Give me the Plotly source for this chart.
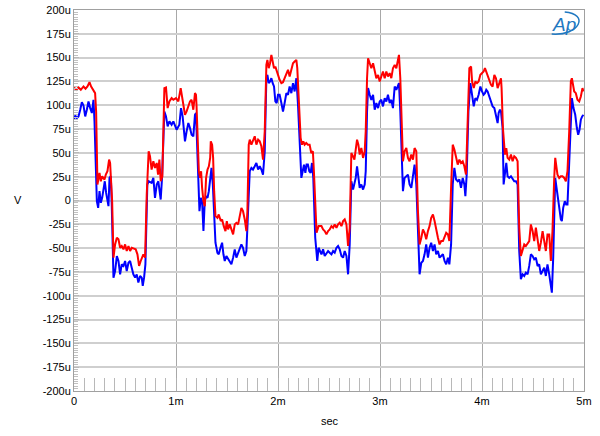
import plotly.graph_objects as go

# time in ms, voltage in microvolts
t_red = [0.000,0.022,0.044,0.067,0.093,0.113,0.132,0.152,0.168,0.178,0.191,0.207,0.217,0.230,0.250,0.263,0.276,0.299,0.312,0.328,0.344,0.354,0.361,0.374,0.387,0.403,0.420,0.436,0.452,0.468,0.485,0.501,0.517,0.534,0.550,0.566,0.582,0.605,0.622,0.638,0.654,0.671,0.680,0.697,0.713,0.732,0.745,0.761,0.778,0.794,0.811,0.824,0.837,0.850,0.866,0.886,0.902,0.918,0.935,0.957,0.974,1.000,1.023,1.046,1.062,1.088,1.104,1.121,1.137,1.153,1.170,1.186,1.196,
         1.201,1.211,1.224,1.237,1.246,1.256,1.269,1.282,1.295,1.309,1.322,1.335,1.341,1.354,1.364,1.374,1.387,1.406,1.419,1.439,1.452,1.468,1.485,1.498,1.511,1.527,1.543,1.560,1.576,1.592,1.609,1.625,1.641,1.657,1.674,1.690,1.700,1.713,1.723,1.739,1.755,1.772,1.788,1.805,1.821,1.837,1.853,1.870,1.886,1.896,1.909,1.922,1.935,1.948,1.961,1.974,1.987,2.000,2.016,2.033,2.049,2.065,2.082,2.098,2.114,2.131,2.147,2.163,2.180,2.189,2.202,2.222,2.235,2.248,2.261,2.277,2.293,2.310,2.326,2.342,2.352,2.365,2.378,2.398,
         2.426,2.442,2.458,2.475,2.491,2.507,2.524,2.540,2.556,2.573,2.589,2.605,2.622,2.638,2.654,2.671,2.687,2.703,2.719,2.736,2.749,2.762,2.775,2.788,2.801,2.817,2.834,2.850,2.860,2.873,2.883,2.899,2.915,2.932,2.948,2.964,2.981,2.997,3.013,3.029,3.046,3.062,3.078,3.095,3.111,3.127,3.144,3.160,3.176,3.186,3.199,3.212,3.225,3.241,3.258,3.274,3.290,3.307,3.323,3.339,3.356,3.372,3.388,3.405,3.421,3.437,3.453,3.470,3.486,3.502,3.519,3.535,3.551,3.568,3.584,3.600,3.617,3.633,3.649,3.666,
         3.680,3.697,3.713,3.729,3.746,3.762,3.778,3.794,3.811,3.827,3.843,3.860,3.876,3.893,3.903,3.919,3.935,3.951,3.967,3.984,4.000,4.016,4.029,4.042,4.055,4.072,4.088,4.104,4.121,4.137,4.153,4.170,4.186,4.192,4.205,4.225,4.238,4.251,4.267,4.284,4.300,4.316,4.333,4.349,4.365,4.381,4.398,4.414,4.430,4.447,4.463,4.479,4.496,4.512,4.528,4.545,4.561,4.577,4.594,4.610,4.626,4.642,4.659,4.675,4.691,4.708,4.718,4.731,4.740,4.757,4.773,4.789,4.806,4.822,4.838,4.855,4.871,4.881,4.891,4.904,4.920,4.936,4.953,4.969,4.985,4.995]
v_red = [118.7,116.2,118.7,116.2,119.7,117.3,119.7,124.2,119.7,118.0,114.5,112.7,93.5,16.8,29.0,20.2,25.5,22.0,27.2,30.7,42.9,39.4,25.5,-0.7,-60.0,-46.1,-39.1,-40.8,-49.6,-47.8,-51.3,-46.1,-53.0,-47.8,-53.0,-49.6,-50.3,-51.3,-56.5,-68.7,-63.5,-60.0,-56.5,-60.0,6.3,51.7,46.4,32.5,41.2,34.2,39.4,27.2,42.9,20.2,25.0,118.0,118.7,97.0,104.0,107.5,105.7,107.5,104.0,118.0,105.7,90.0,93.5,98.8,104.0,105.7,95.3,112.7,111.0,
         100.5,58.6,30.7,23.7,30.7,13.3,-0.7,-5.9,23.7,32.5,35.9,44.7,62.1,58.6,44.7,9.8,-16.4,-18.1,-14.7,-21.6,-19.9,-26.9,-32.1,-21.6,-30.4,-25.1,-30.4,-35.6,-25.1,-23.4,-25.1,-14.7,-7.7,-11.2,-19.9,-32.1,-11.2,58.6,63.9,58.6,62.1,67.4,58.6,63.9,62.1,56.9,42.9,72.6,142.4,147.6,138.9,144.1,152.9,145.9,138.9,140.6,135.4,131.9,126.7,123.2,124.2,128.4,133.7,137.2,130.2,138.9,144.1,145.9,147.6,138.9,111.0,65.6,58.6,62.1,58.6,60.4,58.6,58.6,49.9,51.7,30.7,-11.2,-33.9,-26.9,
         -26.9,-30.4,-32.1,-35.6,-32.1,-30.4,-26.9,-28.6,-25.1,-28.6,-25.1,-23.4,-26.9,-21.6,-19.9,-25.1,-47.8,-28.6,49.9,46.4,42.9,53.4,63.9,58.6,48.2,55.1,44.7,51.7,72.6,128.4,149.4,144.1,138.9,144.1,135.4,128.4,131.9,124.9,130.2,135.4,128.4,135.4,130.2,133.7,128.4,138.9,142.4,138.9,147.6,152.9,128.4,79.6,41.2,51.7,55.1,44.7,41.2,48.2,42.9,55.1,51.7,-11.2,-46.1,-39.1,-30.4,-33.9,-40.8,-32.1,-26.9,-18.1,-14.7,-21.6,-32.1,-39.1,-46.1,-42.6,-42.6,-39.1,-33.9,-35.6,
         -42.6,13.3,58.6,53.4,44.7,37.7,42.9,39.4,41.2,35.9,27.2,93.5,138.9,140.6,124.9,118.0,124.9,123.2,124.9,131.9,133.7,135.4,138.9,135.4,131.9,126.7,121.5,119.7,131.9,128.4,118.0,123.2,128.4,118.0,76.1,48.2,55.1,44.7,42.9,48.2,41.2,46.4,44.7,41.2,-28.6,-58.3,-53.0,-46.1,-47.8,-44.3,-42.6,-25.1,-32.1,-42.6,-28.6,-40.8,-53.0,-44.3,-32.1,-42.6,-53.0,-35.6,-35.6,-63.5,-32.1,23.7,44.7,34.2,27.2,23.7,25.5,25.5,23.7,20.2,30.7,72.6,124.9,128.4,121.5,114.5,112.7,105.7,104.0,109.2,118.0,114.5]

t_blue = [0.000,0.012,0.028,0.044,0.061,0.077,0.093,0.110,0.126,0.142,0.159,0.175,0.191,0.201,0.224,0.237,0.250,0.263,0.276,0.289,0.302,0.315,0.328,0.338,0.348,0.361,0.370,0.387,0.403,0.420,0.436,0.452,0.468,0.485,0.501,0.517,0.534,0.550,0.566,0.582,0.599,0.615,0.631,0.648,0.664,0.674,0.687,0.700,0.719,0.732,0.761,0.778,0.794,0.811,0.827,0.837,0.850,0.863,0.886,0.902,0.918,0.935,0.957,0.974,1.006,1.033,1.049,1.065,1.088,1.104,1.121,1.137,1.153,1.170,1.186,1.196,
          1.217,1.230,1.243,1.256,1.269,1.282,1.295,1.309,1.322,1.335,1.348,1.361,1.374,1.387,1.406,1.419,1.436,1.452,1.465,1.478,1.494,1.511,1.527,1.543,1.560,1.576,1.592,1.609,1.625,1.641,1.657,1.674,1.690,1.706,1.723,1.739,1.755,1.772,1.788,1.805,1.821,1.837,1.853,1.870,1.886,1.896,1.909,1.922,1.935,1.948,1.961,1.974,1.987,2.000,2.016,2.033,2.049,2.065,2.082,2.098,2.114,2.131,2.147,2.163,2.180,2.196,2.212,2.229,2.242,2.255,2.268,2.280,2.293,2.307,2.320,2.333,2.346,2.365,2.385,2.398,
          2.426,2.442,2.458,2.475,2.491,2.507,2.524,2.540,2.556,2.573,2.589,2.605,2.622,2.638,2.654,2.671,2.687,2.703,2.719,2.736,2.749,2.762,2.775,2.788,2.801,2.817,2.834,2.850,2.860,2.873,2.883,2.899,2.915,2.932,2.948,2.964,2.981,2.997,3.013,3.029,3.046,3.062,3.078,3.095,3.111,3.127,3.144,3.160,3.176,3.186,3.199,3.212,3.225,3.241,3.258,3.274,3.290,3.307,3.323,3.339,3.356,3.372,3.388,3.405,3.421,3.437,3.453,3.470,3.486,3.502,3.519,3.535,3.551,3.568,3.584,3.600,3.617,3.633,3.649,3.666,
          3.680,3.697,3.713,3.729,3.746,3.762,3.778,3.794,3.811,3.827,3.837,3.850,3.867,3.886,3.903,3.919,3.935,3.951,3.967,3.984,4.000,4.016,4.029,4.042,4.055,4.072,4.088,4.104,4.121,4.137,4.153,4.163,4.176,4.186,4.202,4.212,4.225,4.238,4.251,4.267,4.284,4.300,4.316,4.333,4.349,4.365,4.381,4.398,4.414,4.430,4.447,4.463,4.479,4.496,4.512,4.528,4.545,4.561,4.577,4.594,4.610,4.626,4.642,4.659,4.675,4.685,4.698,4.718,4.731,4.740,4.757,4.773,4.783,4.796,4.812,4.825,4.838,4.848,4.865,4.881,4.897,4.914,4.930,4.943,4.956,4.969,4.982,4.995]
v_blue = [84.8,89.3,86.6,88.3,95.3,103.3,99.8,88.3,95.3,104.0,97.0,91.8,105.7,83.1,-0.7,-7.7,9.8,-2.4,2.8,9.8,20.2,8.0,-0.7,-5.9,23.7,25.5,-4.2,-81.0,-74.0,-58.3,-63.5,-77.5,-67.0,-68.7,-63.5,-74.0,-65.3,-63.5,-70.5,-77.5,-81.0,-77.5,-86.2,-79.2,-81.0,-89.7,-81.0,-67.0,16.8,20.2,18.5,23.7,2.8,16.8,20.2,9.8,1.0,23.7,93.5,88.3,77.8,83.1,79.6,83.1,74.3,79.6,97.0,88.3,62.1,72.6,81.3,76.1,69.1,67.4,90.0,91.8,
          16.8,-11.2,2.8,-0.7,-32.1,-0.7,4.5,2.8,9.8,23.7,34.2,16.8,-18.1,-44.3,-54.8,-56.5,-49.6,-44.3,-56.5,-63.5,-58.3,-61.8,-65.3,-67.0,-60.0,-51.3,-60.0,-54.8,-49.6,-46.1,-49.6,-58.3,-53.0,-4.2,30.7,34.2,32.5,35.9,39.4,32.5,35.9,32.5,27.2,51.7,128.4,131.9,123.2,124.9,128.4,123.2,119.7,104.0,102.3,111.0,111.0,102.3,93.5,102.3,112.7,111.0,119.7,112.7,123.2,114.5,128.4,100.5,58.6,23.7,30.7,37.7,29.0,37.7,37.7,30.7,29.0,39.4,23.7,-39.1,-63.5,-49.6,
          -56.5,-51.3,-58.3,-54.8,-53.0,-54.8,-56.5,-53.0,-54.8,-49.6,-47.8,-51.3,-58.3,-60.0,-53.0,-58.3,-77.5,-46.1,20.2,11.5,16.8,23.7,35.9,23.7,13.3,16.8,11.5,16.8,30.7,93.5,118.0,111.0,105.7,111.0,95.3,102.3,97.0,104.0,105.7,98.8,107.5,104.0,111.0,102.3,105.7,97.0,119.7,116.2,121.5,123.2,93.5,48.2,9.8,23.7,25.5,27.2,16.8,13.3,25.5,37.7,16.8,-32.1,-77.5,-65.3,-63.5,-56.5,-46.1,-60.0,-49.6,-44.3,-53.0,-46.1,-56.5,-53.0,-60.0,-58.3,-56.5,-63.5,-67.0,-60.0,
          -67.0,-46.1,16.8,34.2,22.0,20.2,22.0,13.3,23.7,16.8,4.5,27.2,93.5,123.2,107.5,98.8,107.5,105.7,111.0,119.7,114.5,111.0,112.7,116.2,114.5,109.2,102.3,98.8,97.0,90.0,81.3,91.8,95.3,93.5,76.1,16.8,27.2,39.4,25.5,23.7,25.5,22.0,20.2,20.2,16.8,-53.0,-82.7,-77.5,-79.2,-75.7,-77.5,-68.7,-56.5,-58.3,-61.8,-60.0,-68.7,-67.0,-77.5,-74.0,-70.5,-79.2,-67.0,-77.5,-87.9,-96.7,-60.0,23.7,13.3,6.3,-4.2,-19.9,-21.6,-7.7,-0.7,-4.2,-4.2,23.7,76.1,107.5,97.0,90.0,76.1,69.1,74.3,84.8,88.3,90.0]

x_tick_vals = [0, 1, 2, 3, 4, 5]
x_tick_text = ["0", "1m", "2m", "3m", "4m", "5m"]
y_tick_vals = list(range(-200, 201, 25))
y_tick_text = [("0" if v == 0 else f"{v}u") for v in y_tick_vals]

FONT = "Liberation Sans, Arial, sans-serif"
LOGO = "#1f78c1"

fig = go.Figure()
fig.add_trace(go.Scatter(x=t_blue, y=v_blue, mode="lines",
                         line=dict(color="#0000ff", width=2), showlegend=False))
fig.add_trace(go.Scatter(x=t_red, y=v_red, mode="lines",
                         line=dict(color="#ff0000", width=2), showlegend=False))

fig.update_layout(
    width=600, height=436,
    margin=dict(l=74, r=16, t=10, b=45),
    paper_bgcolor="white", plot_bgcolor="white",
    font=dict(family=FONT, size=11, color="black"),
    xaxis=dict(range=[0, 5], tickmode="array", tickvals=x_tick_vals, ticktext=x_tick_text,
               automargin=False,
               showgrid=True, gridcolor="#a8a8a8", gridwidth=1,
               ticks="inside", ticklen=13, tickcolor="#b0b0b0",
               showline=True, linecolor="#a0a0a0", linewidth=1, mirror=True,
               zeroline=False,
               minor=dict(tickmode="linear", tick0=0, dtick=0.1, ticks="inside",
                          ticklen=13, tickcolor="#b8b8b8", showgrid=False),
               tickfont=dict(family=FONT, size=11, color="black")),
    yaxis=dict(range=[-200, 200], tickmode="array", tickvals=y_tick_vals, ticktext=y_tick_text,
               automargin=False,
               showgrid=True, gridcolor="#cfcfcf", gridwidth=1.5,
               ticks="inside", ticklen=5, tickcolor="#b8b8b8",
               showline=True, linecolor="#a0a0a0", linewidth=1, mirror=True,
               zeroline=False,
               minor=dict(tickmode="linear", tick0=0, dtick=2.5, ticks="inside",
                          ticklen=4, tickcolor="#c0c0c0", showgrid=False),
               tickfont=dict(family=FONT, size=11, color="black")),
    annotations=[
        dict(text="V", xref="paper", yref="paper", x=-0.109, y=0.501,
             xanchor="center", yanchor="middle", showarrow=False,
             font=dict(family=FONT, size=11, color="black")),
        dict(text="sec", xref="paper", yref="paper", x=0.502, y=-0.079,
             xanchor="center", yanchor="middle", showarrow=False,
             font=dict(family=FONT, size=11, color="black")),
        dict(text="<i>Ap</i>", xref="paper", yref="paper", x=0.960, y=0.961,
             xanchor="center", yanchor="middle", showarrow=False,
             font=dict(family=FONT, size=19, color=LOGO)),
    ],
    shapes=[
        dict(type="path", xref="paper", yref="paper",
             path="M 0.9367,0.9370 C 0.9916,0.9318 1.0112,0.9895 0.9622,0.9948",
             line=dict(color=LOGO, width=1.5)),
    ],
)

fig.write_html("out.html")
